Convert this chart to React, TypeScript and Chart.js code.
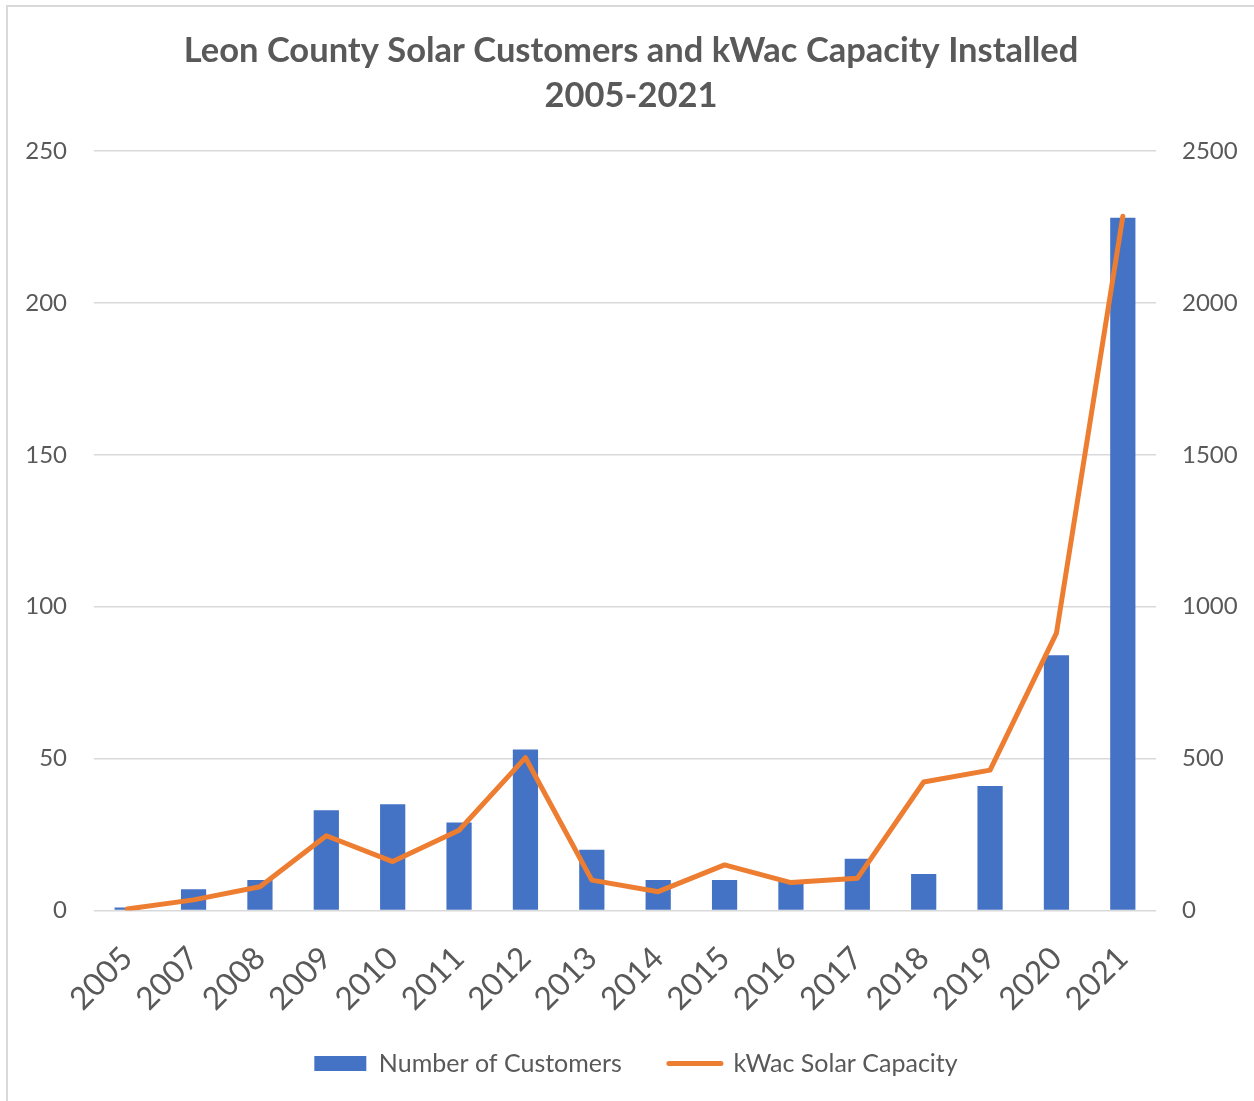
import React, { useEffect, useRef } from "react";
import { Chart, registerables } from "chart.js";

Chart.register(...registerables);

const years = ["2005", "2007", "2008", "2009", "2010", "2011", "2012", "2013", "2014", "2015", "2016", "2017", "2018", "2019", "2020", "2021"];
const customers = [1, 7, 10, 33, 35, 29, 53, 20, 10, 10, 10, 17, 12, 41, 84, 228];
const capacity = [5, 35, 78, 246, 161, 264, 503, 100, 62, 150, 92, 106, 423, 462, 913, 2285];
const titleLines = ["Leon County Solar Customers and kWac Capacity Installed", "2005-2021"];
const seriesNames = ["Number of Customers", "kWac Solar Capacity"];

const BLUE = "#4472C4";
const ORANGE = "#ED7D31";
const TEXT = "#595959";
const GRID = "#d9d9d9";
const FONT = "Lato, 'Open Sans', sans-serif";

const layoutTweak = {
  id: "layoutTweak",
  afterLayout(chart: any) {
    const l = chart.legend;
    if (l) {
      l.left += 5;
      l.right += 5;
    }
    const x = chart.scales.x;
    if (x) {
      x.bottom += 40;
      x.height += 40;
    }
  },
};

export default function App() {
  const ref = useRef<HTMLCanvasElement | null>(null);

  useEffect(() => {
    if (!ref.current) return;
    const chart = new Chart(ref.current, {
      type: "bar",
      data: {
        labels: years,
        datasets: [
          {
            type: "line",
            label: seriesNames[1],
            data: capacity,
            yAxisID: "y2",
            borderColor: ORANGE,
            backgroundColor: ORANGE,
            borderWidth: 5,
            pointRadius: 0,
            borderJoinStyle: "round",
            borderCapStyle: "round",
            tension: 0,
            order: 0,
          } as any,
          {
            type: "bar",
            label: seriesNames[0],
            data: customers,
            yAxisID: "y",
            backgroundColor: BLUE,
            categoryPercentage: 1,
            barPercentage: 0.38,
            order: 1,
          } as any,
        ],
      },
      plugins: [layoutTweak],
      options: {
        animation: false,
        responsive: false,
        maintainAspectRatio: false,
        layout: { padding: { left: 8, right: 0, top: 0, bottom: 15 } },
        plugins: {
          title: {
            display: true,
            text: titleLines,
            color: TEXT,
            font: { family: FONT, size: 34.5, weight: "bold", lineHeight: 1.304 },
            padding: { top: 28, bottom: 33 },
          },
          legend: {
            display: true,
            position: "bottom",
            labels: {
              color: TEXT,
              font: { family: FONT, size: 25 },
              usePointStyle: true,
              pointStyleWidth: 52,
              boxHeight: 15,
              padding: 47,
              generateLabels: () => [
                {
                  text: seriesNames[0],
                  fillStyle: BLUE,
                  strokeStyle: BLUE,
                  lineWidth: 0,
                  pointStyle: "rect",
                  fontColor: TEXT,
                  hidden: false,
                  datasetIndex: 1,
                } as any,
                {
                  text: seriesNames[1],
                  fillStyle: ORANGE,
                  strokeStyle: ORANGE,
                  lineWidth: 5,
                  lineCap: "round",
                  pointStyle: "line",
                  fontColor: TEXT,
                  hidden: false,
                  datasetIndex: 0,
                } as any,
              ],
            },
          },
          tooltip: { enabled: false },
        },
        scales: {
          x: {
            offset: true,
            grid: { display: false, drawTicks: false },
            border: { display: false },
            ticks: {
              color: TEXT,
              font: { family: FONT, size: 31.5 },
              minRotation: 45,
              maxRotation: 45,
              padding: 29,
              autoSkip: false,
            },
            afterFit: (s: any) => {
              s.height = 93.5;
            },
          },
          y: {
            position: "left",
            min: 0,
            max: 250,
            grid: { color: GRID, lineWidth: 1.5, drawTicks: false },
            border: { display: false },
            ticks: {
              stepSize: 50,
              color: TEXT,
              font: { family: FONT, size: 24 },
              padding: 27,
            },
            afterFit: (s: any) => {
              s.width = 86;
            },
          },
          y2: {
            position: "right",
            min: 0,
            max: 2500,
            grid: { display: false, drawTicks: false },
            border: { display: false },
            ticks: {
              stepSize: 500,
              color: TEXT,
              font: { family: FONT, size: 24 },
              padding: 26,
              callback: (v: any) => String(v),
            },
            afterFit: (s: any) => {
              s.width = 98;
            },
          },
        },
      },
    });
    return () => chart.destroy();
  }, []);

  return (
    <div style={{ position: "fixed", left: 0, top: 0, width: 1254, height: 1101, background: "#fff" }}>
      <div
        style={{
          position: "absolute",
          left: 6,
          top: 5,
          width: 1260,
          height: 1110,
          borderLeft: `2px solid ${GRID}`,
          borderTop: `2px solid ${GRID}`,
        }}
      />
      <canvas ref={ref} width={1254} height={1101} style={{ position: "absolute", left: 0, top: 0 }} />
    </div>
  );
}
